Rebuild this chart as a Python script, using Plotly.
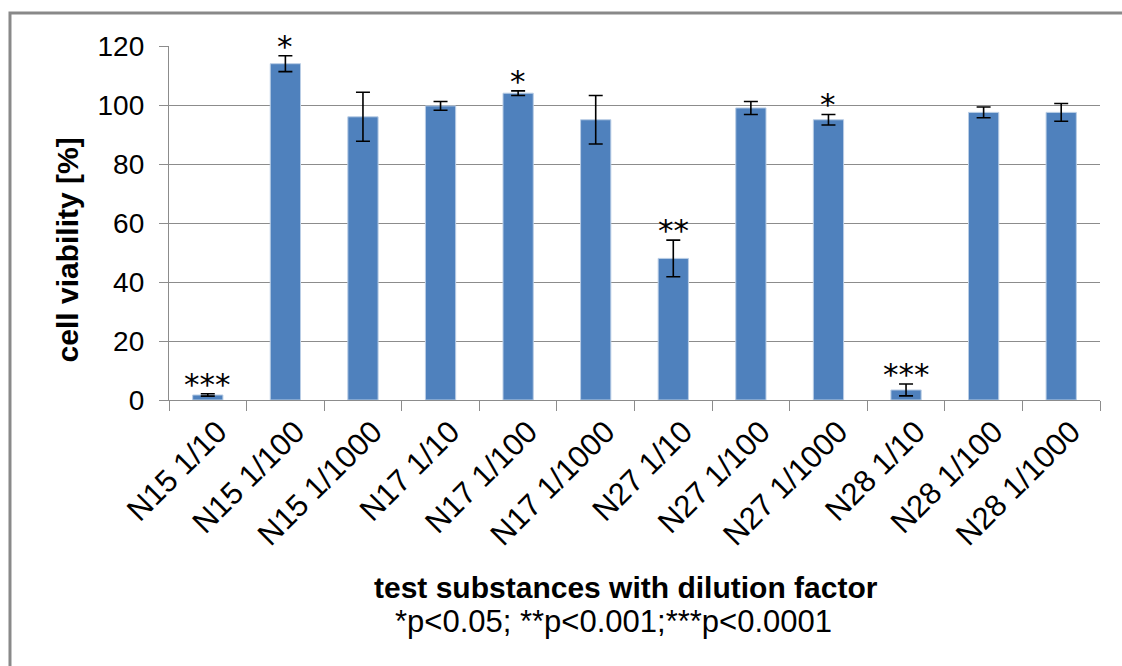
import plotly.graph_objects as go

# Cell viability per test substance and dilution
categories = ["N15 1/10", "N15 1/100", "N15 1/1000",
              "N17 1/10", "N17 1/100", "N17 1/1000",
              "N27 1/10", "N27 1/100", "N27 1/1000",
              "N28 1/10", "N28 1/100", "N28 1/1000"]
viability = [1.7, 114.0, 96.0, 99.7, 104.0, 95.0, 48.0, 99.0, 95.0, 3.4, 97.5, 97.5]
sd = [0.4, 2.7, 8.3, 1.5, 0.8, 8.2, 6.2, 2.2, 1.8, 2.0, 1.8, 3.0]
significance = ["***", "*", "", "", "*", "", "**", "", "*", "***", "", ""]
y_ticks = [0, 20, 40, 60, 80, 100, 120]

FONT = "Liberation Sans, Arial, sans-serif"
GRID = "#8c8c8c"

fig = go.Figure()
fig.add_trace(go.Bar(
    x=categories,
    y=viability,
    marker=dict(color="#4f81bd", line=dict(color="#b9cde5", width=1)),
    error_y=dict(type="data", array=sd, visible=True,
                 color="#000000", thickness=1.6, width=7),
    showlegend=False,
))

# significance markers above the error bars
for cat, v, e, s in zip(categories, viability, sd, significance):
    if s:
        fig.add_annotation(
            x=cat, y=v + e, text=s, showarrow=False,
            xref="x", yref="y", xanchor="center", yanchor="bottom", yshift=-10,
            font=dict(family="DejaVu Sans", size=31, color="#000000"),
        )

# axis titles
fig.add_annotation(
    x=-0.109, y=0.424, xref="paper", yref="paper",
    xanchor="center", yanchor="middle",
    text="<b>cell viability [%]</b>", textangle=-90, showarrow=False,
    font=dict(family=FONT, size=30, color="#000000"),
)
fig.add_annotation(
    x=0.491, y=-0.531, xref="paper", yref="paper",
    xanchor="center", yanchor="middle",
    text="<b>test substances with dilution factor</b>", showarrow=False,
    font=dict(family=FONT, size=30, color="#000000"),
)
fig.add_annotation(
    x=0.477, y=-0.627, xref="paper", yref="paper",
    xanchor="center", yanchor="middle",
    text="*p&lt;0.05; **p&lt;0.001;***p&lt;0.0001", showarrow=False,
    font=dict(family=FONT, size=31, color="#000000"),
)

# outer frame around the chart
fig.add_shape(
    type="rect", xref="paper", yref="paper",
    x0=-0.1708, x1=1.05, y0=-0.85, y1=1.0932,
    line=dict(color="#898989", width=3), fillcolor="rgba(0,0,0,0)",
    layer="below",
)

fig.update_layout(
    width=1122, height=666,
    margin=dict(l=169, r=22, t=46, b=266),
    paper_bgcolor="#ffffff", plot_bgcolor="#ffffff",
    bargap=0.61,
    font=dict(family=FONT, size=25, color="#000000"),
)
fig.update_xaxes(
    type="category", tickangle=-45, ticklabelshift=10,
    tickson="boundaries", ticks="outside", ticklen=10, tickwidth=1.3, tickcolor=GRID,
    showline=True, linecolor=GRID, linewidth=1.3, showgrid=False,
    tickfont=dict(family=FONT, size=31, color="#000000"),
)
fig.update_yaxes(
    range=[0, 120], tickvals=y_ticks, ticks="outside", ticklen=9,
    tickwidth=1.3, tickcolor=GRID, ticklabelstandoff=9,
    showline=True, linecolor=GRID, linewidth=1.3,
    showgrid=True, gridcolor=GRID, gridwidth=1.3, zeroline=False,
    tickfont=dict(family=FONT, size=28, color="#000000"),
)

fig.write_html("out.html")
